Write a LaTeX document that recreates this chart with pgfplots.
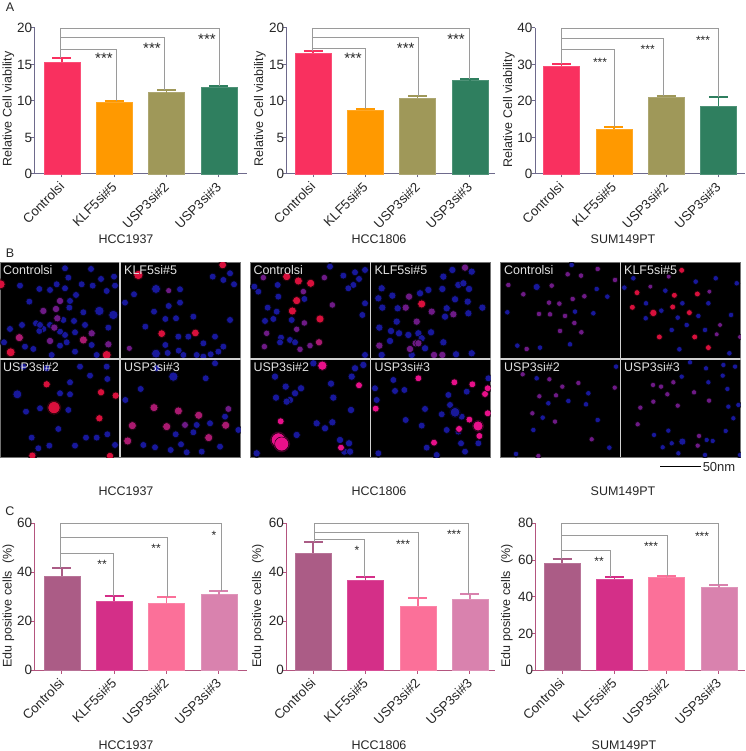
\documentclass[border=0pt]{standalone}
\usepackage{pgfplots}
\pgfplotsset{compat=1.18}
\usepackage{fontspec}
\setmainfont{Liberation Sans}
\definecolor{txt}{HTML}{262626}
\definecolor{axA}{HTML}{6E6A8C}
\definecolor{axC}{HTML}{B4557F}
\definecolor{cRed}{HTML}{F9305F}
\definecolor{cOr}{HTML}{FF9900}
\definecolor{cOl}{HTML}{9F9859}
\definecolor{cGr}{HTML}{2F7F5F}
\definecolor{pA}{HTML}{AB5C86}
\definecolor{pB}{HTML}{D42F88}
\definecolor{pC}{HTML}{FB7099}
\definecolor{pD}{HTML}{D982AE}
\definecolor{brk}{HTML}{9A9A9A}
\definecolor{dB}{HTML}{18189C}
\definecolor{dP}{HTML}{6E1A86}
\definecolor{dM}{HTML}{AA1A70}
\definecolor{dR}{HTML}{D8103C}
\definecolor{dV}{HTML}{E8108A}
\pgfplotsset{
  barax/.style n args={3}{
    scale only axis, width=#1pt, height=#3pt,
    ymin=0, clip=false,
    axis x line*=bottom, axis y line*=left,
    axis line style={-,color=#2,line width=1pt},
    tick style={color=#2,line width=1pt},
    major tick length=3.5pt, tick align=outside,
    xtick={0,1,2,3},
    xticklabels={Controlsi,KLF5si\#5,USP3si\#2,USP3si\#3},
    x tick label style={rotate=45,anchor=north east,font=\fontsize{13.2}{15}\selectfont,text=txt,xshift=-1.5pt,yshift=3.5pt},
    y tick label style={font=\fontsize{13.5}{15}\selectfont,text=txt,xshift=4.5pt},
    /pgf/number format/assume math mode=true,
    ybar, bar width=36pt, bar shift=0pt,
  },
  micro/.style n args={2}{
    scale only axis, width=240.7pt, height=195pt,
    xmin=#1, xmax=#2, ymin=22, ymax=607, y dir=reverse,
    axis background/.style={fill=black},
    axis line style={draw=black!55,line width=.6pt},
    xtick=\empty, ytick=\empty, clip marker paths=true,
  },
}
\newcommand{\bb}[4]{\addplot[fill=#1,draw=#1!85!white,line width=.4pt,
   error bars/.cd,y dir=plus,y explicit,
   error bar style={color=#1,line width=1.7pt},
   error mark options={color=#1,rotate=90,mark size=9.5pt,line width=2pt}]
   coordinates {(#2,#3) +- (0,#4)};}
\newcommand{\br}[4]{\addplot[sharp plot,no markers,color=brk,line width=.8pt] coordinates {(#1,#3)(#2,#3)(#2,#4)};}
\newcommand{\vb}[3]{\addplot[sharp plot,no markers,color=brk,line width=.8pt] coordinates {(#1,#2)(#1,#3)};}
\newcommand{\dotset}[3]{%
 \addplot[only marks,mark=*,mark size=#2*1.22,mark options={draw=none,fill=#1,fill opacity=.3}] coordinates {#3};%
 \addplot[only marks,mark=*,mark size=#2,mark options={draw=none,fill=#1}] coordinates {#3};}
\newcommand{\divs}[1]{%
 \addplot[sharp plot,no markers,color=black!18,line width=1.2pt] coordinates {(#1,22)(#1,607)};}
\newcommand{\T}[3]{\node[text=txt,font=\fontsize{12.5}{14}\selectfont] at (#1pt,{(751-#2)*1pt}) {#3};}
\newcommand{\Lb}[3]{\node[text=txt,rotate=90,font=\fontsize{12.5}{14}\selectfont] at (#1pt,{(751-#2)*1pt}) {#3};}
\newcommand{\St}[3]{\node[text=txt,font=\fontsize{15}{15}\selectfont] at (#1pt,{(751-#2-3)*1pt}) {#3};}
\newcommand{\Sm}[3]{\node[text=txt,font=\fontsize{12}{12}\selectfont] at (#1pt,{(751-#2-2)*1pt}) {#3};}
\newcommand{\W}[3]{\node[text=white!88!black,anchor=west,inner sep=0pt,font=\fontsize{12.5}{14}\selectfont] at (#1pt,{(751-#2)*1pt}) {#3};}
\begin{document}
\begin{tikzpicture}
\useasboundingbox (0pt,0pt) rectangle (745pt,751pt);
%% ---------- Row A ----------
\begin{axis}[barax={212.3}{axA}{146},at={(34.7pt,577pt)},anchor=south west,
  xmin=-0.522,xmax=3.54,ymax=20,ytick={0,5,10,15,20}]
\bb{cRed}{0}{15.3}{0.65}
\bb{cOr}{1}{9.9}{0.15}
\bb{cOl}{2}{11.15}{0.3}
\bb{cGr}{3}{11.85}{0.25}
\vb{-0.03}{20}{15.95}
\br{-0.03}{3.015}{20}{12.1}
\br{-0.03}{1.96}{18.7}{11.45}
\br{-0.03}{1.05}{17.1}{10.05}
\end{axis}
\begin{axis}[barax={208.3}{axA}{146},at={(286.7pt,577pt)},anchor=south west,
  xmin=-0.503,xmax=3.48,ymax=20,ytick={0,5,10,15,20}]
\bb{cRed}{0}{16.6}{0.22}
\bb{cOr}{1}{8.75}{0.15}
\bb{cOl}{2}{10.45}{0.2}
\bb{cGr}{3}{12.8}{0.2}
\vb{-0.02}{20}{16.85}
\br{-0.02}{2.99}{20}{13.0}
\br{-0.02}{2.02}{18.7}{10.65}
\br{-0.02}{1.0}{17.15}{8.9}
\end{axis}
\begin{axis}[barax={210}{axA}{146},at={(535pt,577pt)},anchor=south west,
  xmin=-0.507,xmax=3.51,ymax=40,ytick={0,10,20,30,40}]
\bb{cRed}{0}{29.6}{0.45}
\bb{cOr}{1}{12.2}{0.8}
\bb{cOl}{2}{21.1}{0.35}
\bb{cGr}{3}{18.7}{2.3}
\vb{0}{40}{30.05}
\br{0}{3.0}{40}{21}
\br{0}{1.95}{37.1}{21.45}
\br{0}{1.02}{34}{13}
\end{axis}
%% ---------- Row C ----------
\begin{axis}[barax={212.3}{axC}{147},at={(34.7pt,80.7pt)},anchor=south west,
  xmin=-0.516,xmax=3.54,ymax=60,ytick={0,20,40,60}]
\bb{pA}{0}{38.5}{3.3}
\bb{pB}{1}{28.2}{2.0}
\bb{pC}{2}{27.3}{2.6}
\bb{pD}{3}{30.9}{1.6}
\vb{-0.03}{60}{41.8}
\br{-0.03}{3.05}{60}{32.5}
\br{-0.03}{2.01}{54.3}{29.9}
\br{-0.03}{0.98}{47.9}{30.2}
\end{axis}
\begin{axis}[barax={208.7}{axC}{147},at={(286.3pt,80.7pt)},anchor=south west,
  xmin=-0.516,xmax=3.48,ymax=60,ytick={0,20,40,60}]
\bb{pA}{0}{47.9}{4.5}
\bb{pB}{1}{36.7}{1.5}
\bb{pC}{2}{26.1}{3.3}
\bb{pD}{3}{29}{2.1}
\vb{0.02}{60}{52.4}
\br{0.02}{2.97}{60}{31.1}
\br{0.02}{2.02}{56.3}{29.4}
\br{0.02}{0.97}{53.3}{38.2}
\end{axis}
\begin{axis}[barax={209.3}{axC}{147},at={(535.7pt,80.7pt)},anchor=south west,
  xmin=-0.506,xmax=3.5,ymax=80,ytick={0,20,40,60,80}]
\bb{pA}{0}{58.2}{2.6}
\bb{pB}{1}{49.7}{1.1}
\bb{pC}{2}{50.4}{1.1}
\bb{pD}{3}{45}{1.6}
\vb{-0.02}{80}{60.8}
\br{-0.02}{3.0}{80}{46.6}
\br{-0.02}{2.01}{73.5}{51.5}
\br{-0.02}{0.93}{65.3}{50.8}
\end{axis}
%% ---------- Row B: group 1 ----------
\begin{axis}[micro={0}{722},at={(0pt,293.7pt)},anchor=south west]
\dotset{dB}{3.4}{(195,40)(273,42)(205,68)(303,72)(342,65)(170,88)(195,100)(245,88)(278,92)(150,105)(118,102)(60,92)(320,108)(345,92)(228,120)(210,138)(208,158)(250,172)(88,140)(108,205)(66,210)(30,222)(130,222)(118,228)(190,195)(222,198)(255,210)(325,218)(225,232)(195,240)(180,230)(200,262)(180,272)(75,275)(12,262)(100,282)(225,290)(275,270)(155,300)(290,300)(120,210)(150,210)}
\dotset{dB}{4.6}{(298,168)(340,180)}
\dotset{dP}{3.6}{(180,138)(130,168)(168,162)(172,190)(163,218)(275,235)(150,258)(325,268)}
\dotset{dM}{4}{(58,248)(250,255)}
\dotset{dR}{4.4}{(32,292)(320,300)(2,88)}
\dotset{dB}{3.4}{(540,103)(506,153)(540,143)(462,170)(402,118)(375,143)(496,192)(528,190)(580,185)(690,195)(436,215)(535,245)(565,245)(645,245)(610,265)(496,270)(536,287)(503,294)(590,300)(632,298)(610,305)(670,275)(655,290)(690,55)(638,65)(670,75)(702,88)(550,300)}
\dotset{dB}{4.4}{(468,296)(468,102)}
\dotset{dP}{3}{(506,107)(388,280)}
\dotset{dR}{3.8}{(668,30)(485,236)(586,234)}
\dotset{dR}{4.6}{(415,60)}
\dotset{dB}{3.4}{(78,470)(120,460)(180,415)(210,418)(205,465)(210,382)(322,372)(270,362)(240,335)(175,522)(95,548)(148,572)(115,580)(225,572)(258,548)(290,548)(322,538)(345,570)(100,600)(70,335)(140,340)(320,335)}
\dotset{dB}{4.4}{(52,418)}
\dotset{dR}{6}{(162,458)}
\dotset{dR}{3.6}{(140,388)(303,412)(347,422)(298,490)(330,603)(97,602)}
\dotset{dB}{3.4}{(617,370)(422,402)(376,435)(590,510)(630,505)(527,538)(580,532)(430,570)(465,577)(512,585)(543,568)(605,590)(660,575)(645,325)(675,485)(715,525)(560,592)(470,340)}
\dotset{dB}{4.6}{(520,365)}
\dotset{dP}{3.4}{(685,462)(555,510)}
\dotset{dM}{4}{(462,458)(535,468)(596,481)(397,512)(500,515)(677,511)(626,548)(383,558)}
\divs{360}
\addplot[sharp plot,no markers,color=black!18,line width=1.2pt] coordinates {(0,312)(722,312)};
\end{axis}
%% ---------- Row B: group 2 ----------
\begin{axis}[micro={15}{737},at={(250pt,293.7pt)},anchor=south west]
\dotset{dB}{3.4}{(330,52)(295,62)(342,72)(360,45)(255,35)(98,90)(40,110)(28,95)(100,125)(325,90)(310,100)(360,145)(68,158)(60,198)(85,192)(352,180)(178,132)(108,248)(135,255)(150,262)(105,262)(95,170)(140,195)(360,300)}
\dotset{dP}{3.2}{(55,68)(238,68)(165,283)(195,272)(262,150)(175,110)(155,223)(178,204)(65,235)(58,275)}
\dotset{dM}{3.6}{(222,262)}
\dotset{dR}{4}{(125,65)(160,78)(155,137)(142,168)(197,85)(225,192)}
\dotset{dB}{3.6}{(400,130)(442,122)(412,158)(458,160)(455,200)(403,218)(438,228)(462,235)(490,240)(520,235)(558,232)(530,250)(592,102)(640,90)(655,85)(672,102)(630,133)(605,160)(712,158)(668,140)(600,185)(670,175)(595,262)(633,298)(410,100)(525,115)(622,45)(595,65)(680,50)(680,295)(550,105)(410,300)(540,280)(435,258)(500,300)}
\dotset{dP}{3.6}{(492,125)(482,158)(560,170)(515,200)(403,272)(512,265)(495,282)(567,300)(592,300)(660,38)(520,265)(625,178)}
\dotset{dR}{4}{(530,147)}
\dotset{dB}{3.6}{(90,365)(122,395)(168,400)(150,415)(135,435)(125,440)(93,428)(258,386)(265,428)(318,465)(330,340)(355,330)(320,365)(215,505)(240,520)(262,502)(155,540)(312,565)(298,590)(315,590)(285,555)(205,325)(35,595)}
\dotset{dV}{4.6}{(232,332)}
\dotset{dV}{3.4}{(342,391)(107,499)(288,578)}
\dotset{dV}{7}{(100,555)(110,567)}
\dotset{dB}{3.4}{(445,375)(450,408)(478,405)(395,435)(390,400)(482,495)(530,512)(615,450)(590,478)(605,525)(650,485)(545,578)(575,600)(648,565)(700,565)(665,410)(730,370)(400,595)(540,462)(610,420)(660,590)(640,530)}
\dotset{dB}{4.8}{(630,472)}
\dotset{dV}{3.4}{(520,370)(628,382)(682,388)(720,417)(728,400)(392,461)(728,475)(673,494)(642,522)(703,543)(567,563)}
\dotset{dV}{5}{(699,513)}
\divs{376}
\addplot[sharp plot,no markers,color=black!18,line width=1.2pt] coordinates {(15,312)(737,312)};
\end{axis}
%% ---------- Row B: group 3 ----------
\begin{axis}[micro={30}{752},at={(500pt,293.7pt)},anchor=south west]
\dotset{dP}{2.7}{(55,90)(100,118)(185,92)(233,58)(273,62)(323,42)(177,143)(208,146)(248,132)(283,124)(147,177)(180,178)(225,183)(253,204)(210,228)(274,232)(110,282)(375,75)}
\dotset{dB}{2.7}{(320,102)(352,125)(52,172)(255,170)(310,175)(82,272)(150,278)(240,268)(245,30)}
\dotset{dB}{3.5}{(140,96)}
\dotset{dB}{2.7}{(403,98)(526,107)(577,145)(514,167)(617,80)(655,145)(723,180)(740,85)(430,70)(468,145)(545,225)(563,188)(645,225)(590,210)(467,190)(568,283)(718,295)(677,70)(625,183)}
\dotset{dP}{2.4}{(481,95)(536,65)(690,210)(680,238)(750,246)(658,110)}
\dotset{dR}{2.9}{(427,157)(553,121)(548,156)(441,113)(598,173)(622,117)(508,246)(614,246)(655,278)(575,46)}
\dotset{dR}{3.6}{(490,174)}
\dotset{dP}{2.6}{(178,373)(217,395)(265,384)(198,421)(148,424)(127,475)(195,500)(374,398)(305,553)(98,358)(145,603)}
\dotset{dB}{2.7}{(295,415)(235,438)(288,448)(175,445)(158,488)(130,525)(323,495)(358,578)(140,370)(378,335)(78,597)}
\dotset{dP}{2.6}{(489,390)(513,395)(550,382)(532,418)(490,440)(563,452)(612,412)(451,458)(443,508)(627,543)(623,572)(657,437)}
\dotset{dB}{2.6}{(575,365)(655,382)(698,362)(735,335)(648,340)(700,330)(600,322)(712,402)(745,450)(715,455)(730,490)(707,528)(535,527)(492,540)(545,565)(650,555)(668,558)(518,577)(565,595)(750,600)(645,600)}
\dotset{dB}{3.5}{(577,560)}
\divs{391}
\addplot[sharp plot,no markers,color=black!18,line width=1.2pt] coordinates {(30,312)(752,312)};
\end{axis}
%% ---------- Text ----------
\T{10}{7}{A}\T{10}{253}{B}\T{10}{511}{C}
\Lb{8.5}{109}{Relative Cell viability}
\Lb{260}{109}{Relative Cell viability}
\Lb{509}{110}{Relative Cell viability}
\Lb{8.5}{606}{Edu positive cells \ (\%)}
\Lb{258}{606}{Edu positive cells \ (\%)}
\Lb{507}{606}{Edu positive cells \ (\%)}
\T{126}{239}{HCC1937}\T{379}{239}{HCC1806}\T{623}{239}{SUM149PT}
\T{126}{491}{HCC1937}\T{379}{491}{HCC1806}\T{623}{491}{SUM149PT}
\T{126}{745}{HCC1937}\T{379}{745}{HCC1806}\T{624}{745}{SUM149PT}
\St{104}{55}{***}\St{152}{45}{***}\St{207}{36}{***}
\St{353}{55.7}{***}\St{405.7}{45}{***}\St{456}{36}{***}
\Sm{600}{60}{***}\Sm{647.7}{47.7}{***}\Sm{703}{38.7}{***}
\Sm{102}{562.3}{**}\Sm{156}{546}{**}\Sm{214}{533}{*}
\Sm{357}{548}{*}\Sm{403}{542}{***}\Sm{454}{532}{***}
\Sm{599}{559}{**}\Sm{651}{544}{***}\Sm{702}{534}{***}
\W{3}{270}{Controlsi}\W{124}{270}{KLF5si\#5}\W{3}{367}{USP3si\#2}\W{124}{367}{USP3si\#3}
\W{253.3}{270}{Controlsi}\W{374.3}{270}{KLF5si\#5}\W{253.3}{367}{USP3si\#2}\W{374.3}{367}{USP3si\#3}
\W{504}{270}{Controlsi}\W{624}{270}{KLF5si\#5}\W{504}{367}{USP3si\#2}\W{624}{367}{USP3si\#3}
\draw[black,line width=1.2pt] (660pt,284.3pt) -- (700.7pt,284.3pt);
\node[text=txt,font=\fontsize{13}{15}\selectfont] at (719pt,284.3pt) {50nm};
\end{tikzpicture}
\end{document}
